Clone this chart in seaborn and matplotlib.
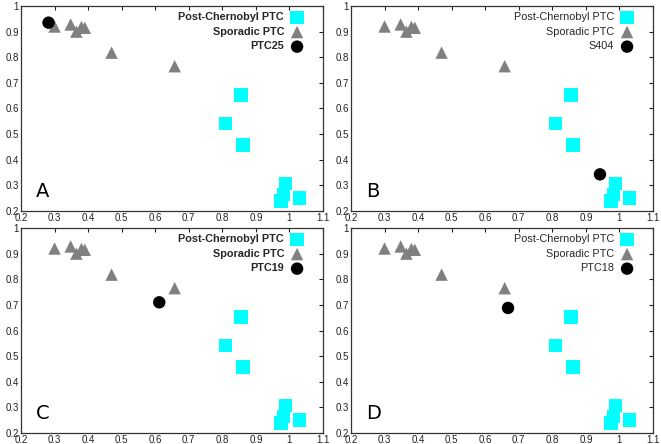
import matplotlib
matplotlib.use("Agg")
import matplotlib.pyplot as plt
import seaborn as sns
import pandas as pd
from matplotlib.ticker import FuncFormatter

sns.set_style("white")
plt.rcParams['font.family'] = ['Liberation Sans', 'DejaVu Sans']

# Data
chern_x = [0.855, 0.810, 0.862, 0.988, 0.982, 0.975, 1.030]
chern_y = [0.652, 0.542, 0.458, 0.308, 0.265, 0.238, 0.250]
spor_x = [0.300, 0.348, 0.365, 0.380, 0.390, 0.470, 0.658]
spor_y = [0.920, 0.928, 0.900, 0.918, 0.915, 0.818, 0.765]
panel_letters = ["A", "B", "C", "D"]
sample_names = ["PTC25", "S404", "PTC19", "PTC18"]
sample_x = [0.282, 0.942, 0.612, 0.668]
sample_y = [0.935, 0.343, 0.710, 0.688]
legend_bold = [True, False, True, False]

x_ticks = [0.2, 0.3, 0.4, 0.5, 0.6, 0.7, 0.8, 0.9, 1.0, 1.1]
y_ticks = [0.2, 0.3, 0.4, 0.5, 0.6, 0.7, 0.8, 0.9, 1.0]

W, H = 661, 444
fig = plt.figure(figsize=(W / 100, H / 100), dpi=100)

ax_left, ax_right, ax_top, ax_bottom = 21, 323, 6, 211

fmt = FuncFormatter(lambda v, p: f"{v:g}")

for i in range(4):
    col = i % 2
    row = i // 2
    x0 = col * 330 + ax_left
    rect = [x0 / W, 1 - (row * 222 + ax_bottom) / H,
            (ax_right - ax_left) / W, (ax_bottom - ax_top) / H]
    ax = fig.add_axes(rect)

    dfc = pd.DataFrame({"x": chern_x, "y": chern_y})
    dfs = pd.DataFrame({"x": spor_x, "y": spor_y})
    dfp = pd.DataFrame({"x": [sample_x[i]], "y": [sample_y[i]]})

    sns.scatterplot(data=dfc, x="x", y="y", ax=ax, marker="s", s=95,
                    color="#00FFFF", edgecolor="none", linewidth=0,
                    label="Post-Chernobyl PTC", zorder=3)
    sns.scatterplot(data=dfs, x="x", y="y", ax=ax, marker="^", s=80,
                    color="#808080", edgecolor="none", linewidth=0,
                    label="Sporadic PTC", zorder=3)
    sns.scatterplot(data=dfp, x="x", y="y", ax=ax, marker="o", s=80,
                    color="black", edgecolor="none", linewidth=0,
                    label=sample_names[i], zorder=4)

    ax.set_xlim(0.2, 1.1)
    ax.set_ylim(0.2, 1.0)
    ax.set_xticks(x_ticks)
    ax.set_yticks(y_ticks)
    ax.xaxis.set_major_formatter(fmt)
    ax.yaxis.set_major_formatter(fmt)
    ax.set_xlabel("")
    ax.set_ylabel("")
    ax.tick_params(direction="in", length=3, width=0.8, top=True, right=True,
                   labelsize=7, pad=1.5, colors="#222222")
    for sp in ax.spines.values():
        sp.set_visible(True)
        sp.set_color("#333333")
        sp.set_linewidth(0.9)

    ax.legend(loc="upper right", bbox_to_anchor=(0.95, 0.99), frameon=False,
              markerfirst=False, handletextpad=0.6, labelspacing=0.42,
              borderaxespad=0.0, handlelength=1.2,
              prop={"weight": "bold" if legend_bold[i] else "normal",
                    "size": 7.8})
    ax.text(0.05, 0.07, panel_letters[i], transform=ax.transAxes,
            fontsize=14, color="black", family="DejaVu Sans")

fig.savefig("out.png", dpi=100)
